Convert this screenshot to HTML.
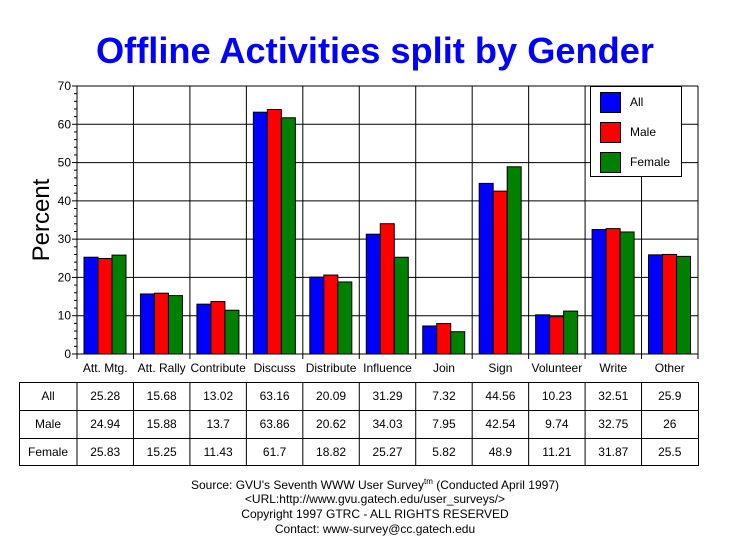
<!DOCTYPE html>
<html><head><meta charset="utf-8"><style>
html,body{margin:0;padding:0;background:#fff;width:729px;height:553px;overflow:hidden}
svg{display:block}
text{font-family:"Liberation Sans",Arial,sans-serif}
</style></head><body>
<svg id="s" width="729" height="553" xmlns="http://www.w3.org/2000/svg">
<rect width="729" height="553" fill="#fff"/>
<text x="375" y="63" text-anchor="middle" font-size="36" font-weight="bold" fill="#0000ff" textLength="558" lengthAdjust="spacingAndGlyphs">Offline Activities split by Gender</text>
<text transform="translate(49,220) rotate(-90)" text-anchor="middle" font-size="24" fill="#000">Percent</text>
<g id="g"></g>
<g font-size="12" text-anchor="middle" fill="#000">
<text x="375" y="489">Source: GVU's Seventh WWW User Survey<tspan font-size="8" dy="-5">tm</tspan><tspan dy="5"> (Conducted April 1997)</tspan></text>
<text x="375" y="503">&lt;URL:http://www.gvu.gatech.edu/user_surveys/&gt;</text>
<text x="375" y="518">Copyright 1997 GTRC - ALL RIGHTS RESERVED</text>
<text x="375" y="533">Contact: www-survey@cc.gatech.edu</text>
</g>
</svg>
<script>
var cats=["Att. Mtg.","Att. Rally","Contribute","Discuss","Distribute","Influence","Join","Sign","Volunteer","Write","Other"];
var d=[[25.28,15.68,13.02,63.16,20.09,31.29,7.32,44.56,10.23,32.51,25.9],
[24.94,15.88,13.7,63.86,20.62,34.03,7.95,42.54,9.74,32.75,26],
[25.83,15.25,11.43,61.7,18.82,25.27,5.82,48.9,11.21,31.87,25.5]];
var cols=["#0000ff","#ff0000","#008000"],names=["All","Male","Female"];
var X0=77,X1=698,Y0=354,Ytop=86,cw=(X1-X0)/11,k=(Y0-Ytop)/70;
var h='';
for(var v=10;v<=70;v+=10){var y=Y0-v*k;h+='<line x1="'+X0+'" y1="'+y+'" x2="'+X1+'" y2="'+y+'" stroke="#000" stroke-width="1"/>';}
for(var i=1;i<=11;i++){var x=X0+i*cw;h+='<line x1="'+x+'" y1="'+Ytop+'" x2="'+x+'" y2="'+(Y0+5)+'" stroke="#000"/>';}
for(var v=0;v<=70;v+=2){var y=Y0-v*k;h+='<line x1="'+(X0-(v%10?3:5))+'" y1="'+y+'" x2="'+X0+'" y2="'+y+'" stroke="#000"/>';}
for(var v=0;v<=70;v+=10){var y=Y0-v*k;h+='<text x="'+(X0-6)+'" y="'+(y+4)+'" font-size="12" text-anchor="end">'+v+'</text>';}
for(var i=0;i<11;i++){var gx=X0+i*cw+7;
 for(var s=0;s<3;s++){var v=d[s][i],y=Y0-v*k;h+='<rect x="'+(gx+s*14)+'" y="'+y+'" width="14" height="'+(Y0-y)+'" fill="'+cols[s]+'" stroke="#000" stroke-width="1"/>';}
 h+='<text x="'+(X0+i*cw+cw/2)+'" y="372" font-size="12" text-anchor="middle">'+cats[i]+'</text>';}
h+='<line x1="'+X0+'" y1="'+Ytop+'" x2="'+X0+'" y2="'+(Y0+5)+'" stroke="#000"/>';
h+='<line x1="'+X0+'" y1="'+Y0+'" x2="'+X1+'" y2="'+Y0+'" stroke="#000"/>';
h+='<rect x="590.5" y="86.5" width="91" height="90" fill="#fff" stroke="#000"/>';
for(var s=0;s<3;s++){var y=92+s*30;h+='<rect x="600.5" y="'+(y+0.5)+'" width="20" height="20" fill="'+cols[s]+'" stroke="#000"/><text x="630" y="'+(y+14)+'" font-size="12">'+names[s]+'</text>';}
var T=[382,410,438,465];
h+='<rect x="19.5" y="382.5" width="'+(X1-19)+'" height="83" fill="none" stroke="#000"/>';
h+='<line x1="19" y1="410.5" x2="'+X1+'" y2="410.5" stroke="#000"/><line x1="19" y1="438.5" x2="'+X1+'" y2="438.5" stroke="#000"/>';
for(var i=0;i<11;i++){var x=X0+i*cw;h+='<line x1="'+x+'" y1="382" x2="'+x+'" y2="466" stroke="#000"/>';}
for(var s=0;s<3;s++){var y=T[s]+18;h+='<text x="48" y="'+y+'" font-size="12" text-anchor="middle">'+names[s]+'</text>';
 for(var i=0;i<11;i++)h+='<text x="'+(X0+i*cw+cw/2)+'" y="'+y+'" font-size="12" text-anchor="middle">'+d[s][i]+'</text>';}
document.getElementById('g').innerHTML=h;
</script>
</body></html>
